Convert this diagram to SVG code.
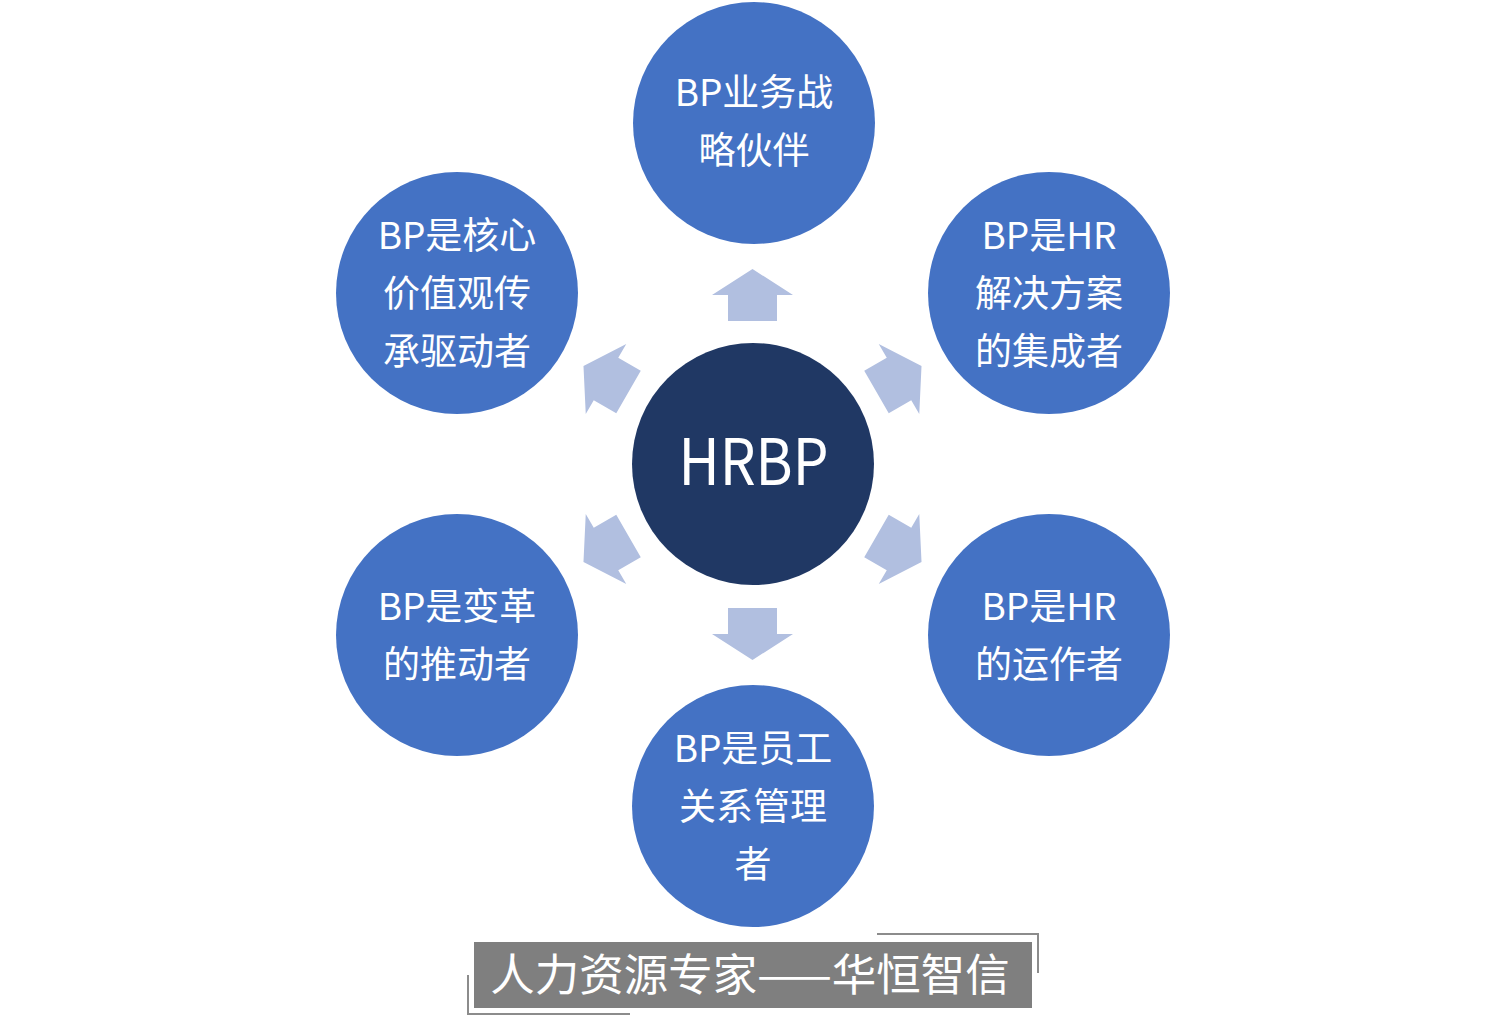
<svg xmlns="http://www.w3.org/2000/svg" width="1505" height="1021" viewBox="0 0 1505 1021">
<defs>
<style>
.node{fill:#4472C4}
.hub{fill:#203864}
.lbl{fill:#FFFFFF;font-family:"Noto Sans CJK SC","Noto Sans",sans-serif;font-size:37px;text-anchor:middle}
.hubtxt{fill:#FFFFFF;font-family:"Noto Sans CJK SC","Noto Sans",sans-serif;font-size:64px;text-anchor:middle}
.arrow{fill:#B1BFE0}
.brk{fill:none;stroke:#8C8C8C;stroke-width:2}
</style>
<path id="arr" d="M0,-26 L40.5,0 L24.5,0 L24.5,26 L-24.5,26 L-24.5,0 L-40.5,0 Z"/>
</defs>
<rect width="1505" height="1021" fill="#FFFFFF"/>
<g id="connectors" class="arrow">
<use href="#arr" transform="translate(752.5,295)"/>
<use href="#arr" transform="translate(606,379) rotate(-60)"/>
<use href="#arr" transform="translate(899,379) rotate(60)"/>
<use href="#arr" transform="translate(606,549) rotate(-120)"/>
<use href="#arr" transform="translate(899,549) rotate(120)"/>
<use href="#arr" transform="translate(752.5,634) rotate(180)"/>
</g>
<g id="hub">
<circle class="hub" cx="753" cy="464" r="121"/>
<text class="hubtxt" x="753.5" y="485" textLength="150" lengthAdjust="spacingAndGlyphs">HRBP</text>
</g>
<g id="node-top">
<circle class="node" cx="754" cy="123" r="121"/>
<text class="lbl" x="754" y="106">BP业务战</text>
<text class="lbl" x="754" y="164">略伙伴</text>
</g>
<g id="node-top-left">
<circle class="node" cx="457" cy="293" r="121"/>
<text class="lbl" x="457" y="249">BP是核心</text>
<text class="lbl" x="457" y="307">价值观传</text>
<text class="lbl" x="457" y="365">承驱动者</text>
</g>
<g id="node-top-right">
<circle class="node" cx="1049" cy="293" r="121"/>
<text class="lbl" x="1049" y="249">BP是HR</text>
<text class="lbl" x="1049" y="307">解决方案</text>
<text class="lbl" x="1049" y="365">的集成者</text>
</g>
<g id="node-bottom-left">
<circle class="node" cx="457" cy="635" r="121"/>
<text class="lbl" x="457" y="620">BP是变革</text>
<text class="lbl" x="457" y="678">的推动者</text>
</g>
<g id="node-bottom-right">
<circle class="node" cx="1049" cy="635" r="121"/>
<text class="lbl" x="1049" y="620">BP是HR</text>
<text class="lbl" x="1049" y="678">的运作者</text>
</g>
<g id="node-bottom">
<circle class="node" cx="753" cy="806" r="121"/>
<text class="lbl" x="753" y="762">BP是员工</text>
<text class="lbl" x="753" y="820">关系管理</text>
<text class="lbl" x="753" y="878">者</text>
</g>
<g id="banner">
<rect x="474" y="942" width="558" height="66" fill="#7F7F7F"/>
<polyline class="brk" points="877,934 1038,934 1038,973"/>
<polyline class="brk" points="468,975 468,1014 630,1014"/>
<text x="750" y="991" fill="#FFFFFF" font-family="'Noto Sans CJK SC','Noto Sans',sans-serif" font-size="44.5" text-anchor="middle">人力资源专家——华恒智信</text>
</g>
</svg>
